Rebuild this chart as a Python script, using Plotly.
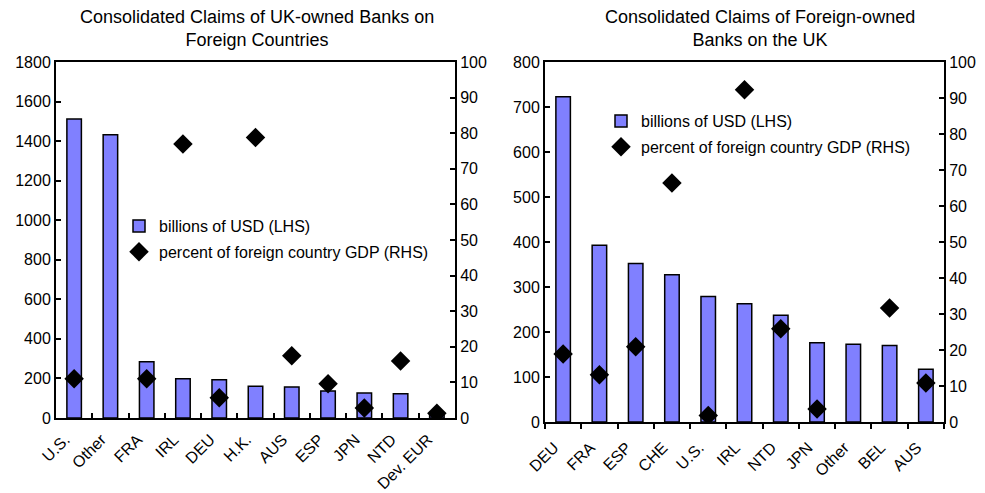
import plotly.graph_objects as go

# ---- Left panel: UK-owned banks' claims on foreign countries ----
left_categories = ["U.S.", "Other", "FRA", "IRL", "DEU", "H.K.", "AUS", "ESP", "JPN", "NTD", "Dev. EUR"]
left_usd_bn = [1512, 1432, 285, 199, 194, 160, 157, 137, 126, 122, 15]
left_pct_gdp = [11.0, None, 11.0, 77.0, 5.7, 78.8, 17.5, 9.6, 2.8, 16.0, 1.3]

# ---- Right panel: foreign-owned banks' claims on the UK ----
right_categories = ["DEU", "FRA", "ESP", "CHE", "U.S.", "IRL", "NTD", "JPN", "Other", "BEL", "AUS"]
right_usd_bn = [723, 393, 352, 327, 279, 263, 237, 176, 173, 170, 117]
right_pct_gdp = [18.9, 13.1, 20.9, 66.4, 1.8, 92.3, 25.9, 3.6, None, 31.7, 10.8]

left_ticks_lhs = list(range(0, 1801, 200))
right_ticks_lhs = list(range(0, 801, 100))
ticks_rhs = list(range(0, 101, 10))

BAR_COLOR = "#8080FF"
FONT = "Liberation Sans, Arial, sans-serif"
W, H = 985, 493

fig = go.Figure()

bar_style = dict(marker=dict(color=BAR_COLOR, line=dict(color="black", width=1.5)), width=0.4)
dia_style = dict(mode="markers", marker=dict(symbol="diamond", size=15, color="black"))

fig.add_trace(go.Bar(x=left_categories, y=left_usd_bn, name="billions of USD (LHS)",
                     xaxis="x", yaxis="y", legend="legend", legendgroup="a", **bar_style))
fig.add_trace(go.Scatter(x=left_categories, y=left_pct_gdp, name="percent of foreign country GDP (RHS)",
                         xaxis="x", yaxis="y2", legend="legend", legendgroup="b", **dia_style))
fig.add_trace(go.Bar(x=right_categories, y=right_usd_bn, name="billions of USD (LHS)",
                     xaxis="x2", yaxis="y3", legend="legend2", legendgroup="c", **bar_style))
fig.add_trace(go.Scatter(x=right_categories, y=right_pct_gdp, name="percent of foreign country GDP (RHS)",
                         xaxis="x2", yaxis="y4", legend="legend2", legendgroup="d", **dia_style))

def px_x(v):
    return v / W

def px_y(v):
    return 1 - v / H

axis_common = dict(showline=True, linecolor="black", linewidth=2, showgrid=False, zeroline=False,
                   automargin=False,
                   tickfont=dict(family=FONT, size=16, color="black"), ticklen=5, tickcolor="black",
                   tickwidth=1.5)

L_dom = [px_x(56), px_x(455)]
R_dom = [px_x(545), px_x(944)]
L_ydom = [px_y(418), px_y(62)]
R_ydom = [px_y(422), px_y(62)]
L_xrange = [-0.5, len(left_categories) - 0.5]
R_xrange = [-0.5, len(right_categories) - 0.5]

fig.update_layout(
    width=W, height=H,
    margin=dict(l=0, r=0, t=0, b=0, autoexpand=False),
    paper_bgcolor="white", plot_bgcolor="white",
    font=dict(family=FONT, size=16, color="black"),
    bargap=0.6,
    xaxis=dict(domain=L_dom, anchor="y", type="category", range=L_xrange, tickson="boundaries",
               ticks="inside", tickangle=-45, mirror=True, ticklabelshift=-9, ticklabelstandoff=4,
               **axis_common),
    yaxis=dict(domain=L_ydom, anchor="x", range=[0, 1800], tickvals=left_ticks_lhs, ticks="inside",
               **axis_common),
    yaxis2=dict(overlaying="y", anchor="x", side="right", range=[0, 100], tickvals=ticks_rhs,
                ticks="inside", **axis_common),
    xaxis2=dict(domain=R_dom, anchor="y3", type="category", range=R_xrange, tickson="boundaries",
                ticks="outside", tickangle=-45, mirror=True, ticklabelshift=-9, ticklabelstandoff=8,
                **axis_common),
    yaxis3=dict(domain=R_ydom, anchor="x2", range=[0, 800], tickvals=right_ticks_lhs, ticks="inside",
                **axis_common),
    yaxis4=dict(overlaying="y3", anchor="x2", side="right", range=[0, 100], tickvals=ticks_rhs,
                ticks="inside", **axis_common),
    legend=dict(x=px_x(119), y=px_y(209), xanchor="left", yanchor="top", bgcolor="rgba(0,0,0,0)",
                font=dict(family=FONT, size=16), itemwidth=30, tracegroupgap=2, traceorder="grouped"),
    legend2=dict(x=px_x(601), y=px_y(104), xanchor="left", yanchor="top", bgcolor="rgba(0,0,0,0)",
                 font=dict(family=FONT, size=16), itemwidth=30, tracegroupgap=2, traceorder="grouped"),
    annotations=[
        dict(text="Consolidated Claims of UK-owned Banks on<br>Foreign Countries", x=px_x(256.5), y=px_y(5),
             xref="paper", yref="paper", xanchor="center", yanchor="top", showarrow=False,
             font=dict(family=FONT, size=18, color="black")),
        dict(text="Consolidated Claims of Foreign-owned<br>Banks on the UK", x=px_x(760), y=px_y(5),
             xref="paper", yref="paper", xanchor="center", yanchor="top", showarrow=False,
             font=dict(family=FONT, size=18, color="black")),
    ],
)

fig.write_html("out.html", config={"displayModeBar": False},
               post_script="document.body.style.margin='0px';")
